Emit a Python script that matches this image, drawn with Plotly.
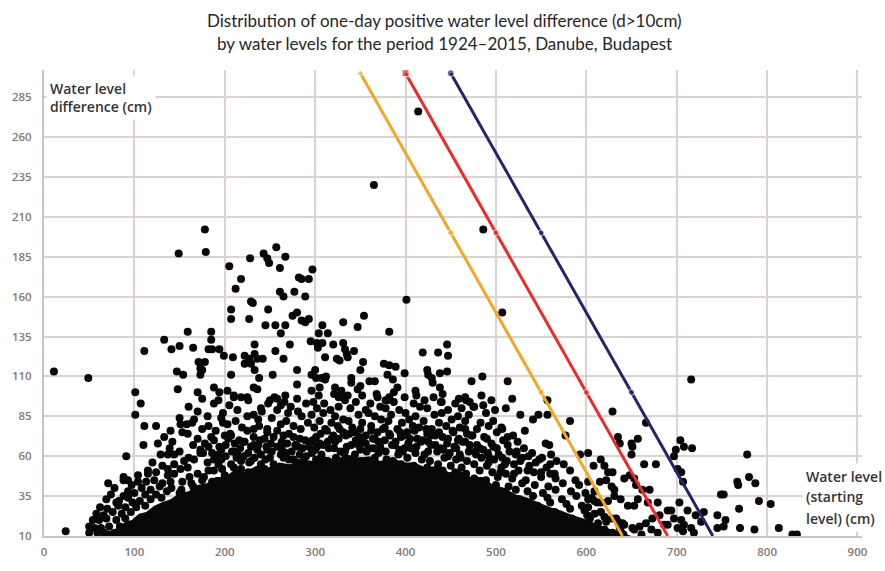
import plotly.graph_objects as go

# Water level at the start of the day (cm), one-day rise of the water level (cm)
# Isolated high rises and the thin upper part of the cloud
sparse_points = [
    (11, 113), (49, 109), (24, 13), (149, 187), (179, 188), (178, 202), (205, 179), (218, 171),
    (212, 165), (228, 184), (229, 157), (231, 156), (207, 152), (207, 146), (227, 146), (243, 187),
    (247, 184), (249, 181), (257, 191), (267, 185), (261, 178), (282, 172), (261, 163), (265, 160),
    (277, 163), (248, 152), (280, 150), (275, 148), (245, 142), (256, 142), (267, 142), (262, 137),
    (159, 138), (185, 138), (185, 133), (133, 133), (150, 129), (141, 127), (165, 128), (111, 126),
    (182, 127), (186, 127), (194, 127), (199, 123), (209, 122), (222, 123), (233, 130), (233, 124),
    (227, 121), (236, 121), (242, 121), (229, 118), (222, 118), (233, 114), (238, 109), (253, 111),
    (256, 126), (265, 121), (272, 130), (280, 114), (280, 105), (171, 119), (178, 119), (173, 115),
    (173, 111), (175, 114), (147, 113), (154, 111), (207, 111), (101, 100), (148, 102), (170, 100),
    (188, 103), (194, 100), (203, 101), (210, 98), (218, 97), (225, 97), (232, 103), (236, 102),
    (258, 96), (267, 98), (250, 95), (107, 93), (101, 86),
    (365, 230), (414, 276), (486, 202), (401, 158), (507, 150), (297, 177), (293, 171), (285, 171),
    (289, 160), (293, 146), (289, 144), (285, 145), (308, 142), (331, 144), (354, 148), (347, 141),
    (382, 138), (304, 137), (314, 137), (295, 132), (302, 131), (308, 131), (320, 130), (331, 131),
    (446, 130), (303, 128), (333, 127), (343, 126), (335, 124), (336, 122), (419, 125), (436, 125),
    (447, 123), (311, 122), (324, 121), (327, 120), (353, 119), (376, 118), (382, 117), (389, 116),
    (350, 114), (300, 114), (296, 111), (301, 109), (307, 109), (312, 110), (399, 112), (424, 114),
    (425, 111), (438, 112), (446, 113), (485, 110), (473, 107), (513, 107), (340, 109), (340, 106),
    (360, 107), (366, 107), (380, 111), (386, 108), (391, 103), (387, 100), (382, 97), (429, 109),
    (430, 106), (438, 103), (411, 101), (431, 97), (440, 94), (459, 96), (467, 95), (518, 96),
    (557, 95), (322, 103), (329, 101), (336, 98), (326, 97), (347, 102), (350, 104), (369, 97),
    (378, 95), (311, 108), (305, 103), (296, 101), (716, 108),
]

# Dense field between the saturated core and 100 cm, low water levels
left_band = [
    (175, 96), (193, 95), (210, 97), (226, 95), (255, 97), (266, 94), (280, 96),
    (160, 91), (188, 93), (205, 92), (240, 90), (248, 93), (262, 92), (273, 91), (290, 93),
    (170, 88), (198, 87), (214, 89), (232, 86), (241, 88), (258, 89), (270, 87), (281, 88),
    (150, 84), (166, 83), (181, 85), (196, 84), (212, 82), (225, 85), (237, 83), (252, 84), (268, 82), (285, 85),
    (111, 79), (124, 79), (151, 80), (158, 80), (164, 81), (182, 79), (198, 81), (203, 80), (219, 78),
    (238, 79), (247, 77), (262, 80), (276, 79), (292, 81),
    (140, 76), (153, 75), (175, 77), (190, 76), (206, 74), (225, 76), (232, 77), (247, 75), (258, 76), (271, 74), (284, 77),
    (133, 72), (159, 74), (170, 71), (185, 72), (200, 73), (207, 73), (216, 70), (232, 72), (244, 71), (265, 73), (276, 72), (289, 70),
    (110, 67), (126, 68), (142, 69), (165, 67), (178, 68), (194, 66), (211, 68), (222, 69), (237, 67), (251, 68), (269, 68), (281, 66),
    (139, 65), (150, 63), (173, 64), (186, 62), (196, 64), (210, 63), (229, 66), (236, 64), (247, 64), (258, 66), (274, 63), (286, 65),
    (91, 60), (129, 61), (137, 61), (144, 61), (160, 59), (173, 62), (188, 58), (201, 60), (214, 61), (221, 60),
    (233, 59), (245, 58), (262, 61), (276, 58), (290, 60),
    (120, 56), (131, 54), (144, 55), (155, 57), (166, 58), (181, 56), (193, 55), (207, 55), (218, 57), (227, 56),
    (240, 55), (254, 55), (265, 59), (280, 56),
    (115, 51), (124, 50), (137, 52), (151, 52), (159, 53), (170, 49), (182, 51), (197, 52), (210, 53), (218, 52),
    (231, 50), (244, 52), (258, 53), (270, 51), (282, 52), (294, 53),
    (88, 47), (104, 48), (115, 49), (137, 48), (144, 49), (161, 47), (177, 47), (188, 51), (200, 48), (213, 49), (226, 50), (238, 48),
    (71, 43), (88, 45), (93, 45), (97, 42), (104, 44), (113, 44), (122, 45), (131, 43), (140, 44), (153, 44),
    (163, 43), (175, 45), (186, 44), (198, 45),
    (78, 40), (93, 38), (108, 40), (118, 39), (128, 41), (141, 40), (152, 39), (165, 41), (177, 40),
    (74, 36), (88, 35), (100, 37), (112, 36), (124, 36), (136, 38), (150, 37),
    (69, 33), (80, 31), (83, 32), (93, 34), (98, 31), (106, 32), (118, 33), (130, 34),
    (62, 28), (70, 27), (82, 29), (90, 28), (102, 28), (112, 29),
    (58, 24), (66, 23), (76, 25), (86, 24), (96, 25),
    (54, 20), (61, 20), (69, 21), (80, 20), (90, 21),
    (50, 16), (56, 15), (63, 15), (72, 16), (84, 16),
    (50, 12), (59, 12), (66, 12), (71, 11),
    (188, 70), (204, 71), (221, 69), (239, 70), (254, 72), (263, 69), (283, 71), (296, 69),
    (182, 66), (201, 67), (217, 65), (232, 67), (246, 66), (263, 65), (278, 67), (293, 66),
    (176, 62), (193, 61), (208, 63), (226, 62), (240, 61), (252, 63), (268, 62), (283, 61), (297, 63),
    (196, 58), (213, 59), (229, 57), (250, 59), (271, 58), (287, 57),
]

# Dense field between the saturated core and 100 cm, middle water levels
right_band = [
    (304, 98), (321, 99), (330, 97), (352, 98), (368, 99), (399, 97), (412, 98), (441, 99), (466, 97), (484, 98),
    (298, 94), (310, 93), (333, 95), (345, 94), (361, 93), (380, 95), (387, 94), (409, 93), (421, 95),
    (439, 94), (455, 93), (471, 94), (495, 95),
    (302, 90), (317, 89), (326, 91), (339, 90), (356, 89), (372, 91), (378, 90), (393, 89), (416, 91),
    (424, 90), (447, 89), (462, 90), (476, 91), (499, 89), (511, 90),
    (296, 86), (309, 87), (322, 85), (348, 86), (359, 87), (366, 85), (384, 86), (400, 87), (411, 85),
    (432, 86), (440, 87), (458, 85), (470, 86), (489, 87), (527, 86),
    (305, 82), (318, 81), (331, 83), (337, 82), (352, 81), (373, 83), (381, 82), (396, 81), (404, 83),
    (420, 82), (437, 81), (451, 83), (466, 82), (483, 81), (497, 82), (541, 83),
    (299, 78), (311, 77), (325, 79), (341, 78), (350, 77), (362, 79), (377, 78), (391, 77), (408, 79),
    (415, 78), (429, 77), (445, 79), (460, 78), (479, 77), (492, 79), (506, 78),
    (306, 74), (320, 73), (331, 75), (338, 74), (356, 73), (369, 75), (382, 74), (398, 73), (402, 75),
    (424, 74), (433, 73), (453, 75), (468, 74), (474, 73), (501, 75), (519, 73),
    (297, 70), (314, 69), (326, 71), (345, 70), (353, 69), (364, 71), (377, 70), (389, 69), (405, 71),
    (419, 70), (425, 69), (447, 71), (458, 70), (466, 69), (490, 71), (508, 70), (524, 69),
    (302, 66), (309, 67), (321, 65), (335, 66), (348, 67), (359, 65), (372, 66), (385, 67), (399, 65),
    (412, 66), (428, 67), (439, 65), (454, 66), (471, 67), (482, 65), (497, 66), (513, 67), (531, 65),
    (296, 62), (307, 61), (328, 63), (332, 62), (344, 61), (357, 63), (370, 62), (392, 61), (397, 63),
    (411, 62), (421, 61), (435, 63), (449, 62), (460, 61), (477, 63), (491, 62), (503, 61), (523, 63),
    (540, 62), (561, 61),
    (301, 58), (314, 57), (323, 59), (339, 58), (350, 57), (366, 59), (379, 58), (386, 57), (402, 59),
    (418, 58), (427, 57), (443, 59), (456, 58), (468, 57), (484, 59), (498, 58), (512, 57), (529, 59),
    (548, 58), (567, 57),
    (298, 54), (310, 53), (319, 55), (333, 54), (345, 53), (358, 55), (371, 54), (382, 53), (395, 55),
    (409, 54), (424, 53), (436, 55), (450, 54), (462, 53), (476, 55), (490, 54), (506, 53), (520, 55),
    (537, 54), (556, 53), (575, 55),
    (366, 50), (388, 49), (401, 51), (414, 50), (430, 49), (441, 51), (455, 50), (467, 49), (482, 51),
    (496, 50), (511, 49), (525, 51), (542, 50), (560, 49), (582, 51),
    (425, 46), (446, 45), (460, 47), (476, 46), (489, 45), (502, 47), (518, 46), (533, 45), (550, 47),
    (566, 46), (588, 45),
    (457, 42), (472, 41), (486, 43), (500, 42), (514, 41), (529, 43), (543, 42), (558, 41), (574, 43), (592, 42),
    (491, 38), (507, 37), (522, 39), (535, 38), (552, 37), (566, 39), (583, 38), (599, 37),
    (511, 34), (526, 33), (541, 35), (557, 34), (573, 33), (589, 35), (606, 34),
    (529, 30), (546, 29), (560, 31), (578, 30), (595, 29), (612, 31),
    (548, 26), (565, 25), (582, 27), (598, 26), (616, 25),
    (567, 22), (584, 21), (601, 23), (620, 22), (633, 21),
    (586, 18), (603, 17), (622, 19), (640, 18),
    (605, 14), (621, 13), (637, 15), (653, 14),
    (624, 11), (641, 11), (661, 11),
    (313, 76), (327, 77), (344, 75), (362, 76), (375, 77), (394, 75), (410, 76), (423, 77), (437, 75), (452, 76), (466, 77),
    (301, 72), (318, 71), (334, 73), (349, 72), (366, 71), (383, 73), (395, 72), (413, 71), (428, 73),
    (441, 72), (459, 71), (473, 73), (487, 72),
    (305, 68), (322, 69), (340, 67), (356, 68), (370, 69), (388, 67), (403, 68), (417, 69), (433, 67),
    (446, 68), (463, 69), (479, 67), (495, 68),
    (300, 64), (315, 65), (333, 63), (350, 64), (364, 65), (378, 63), (393, 64), (406, 65), (425, 63),
    (442, 64), (456, 65), (470, 63), (486, 64), (501, 65), (515, 63),
    (447, 60), (461, 59), (478, 61), (492, 60), (507, 59), (522, 61), (536, 60), (551, 59),
    (492, 56), (510, 55), (527, 57), (544, 56), (560, 55),
    (505, 50), (520, 49), (535, 51), (550, 50), (565, 49),
]

# High water levels, right of the cloud
right_tail = [
    (475, 91), (486, 92), (547, 86), (557, 86), (582, 82), (507, 77), (513, 72), (532, 76), (555, 68),
    (559, 67), (577, 73), (593, 61), (608, 54), (602, 44), (629, 88), (666, 81), (704, 70), (708, 66),
    (717, 65), (699, 64), (697, 60), (778, 61), (780, 47), (787, 43), (768, 42), (767, 44), (791, 32),
    (804, 30), (769, 27), (749, 36), (752, 36), (745, 23), (754, 20), (752, 16), (745, 15), (770, 15),
    (786, 14), (813, 15), (828, 11), (833, 11),
    (701, 52), (705, 50), (707, 44), (703, 31), (712, 26), (721, 23), (730, 25), (727, 19), (716, 15),
    (707, 13), (719, 12), (694, 26), (697, 21), (690, 17), (705, 20), (708, 17), (701, 15),
    (635, 72), (637, 68), (650, 68), (651, 66), (657, 71), (650, 61), (664, 55), (677, 55), (648, 48),
    (642, 46), (653, 46), (655, 42), (662, 39), (670, 39), (631, 39), (628, 41), (616, 58), (620, 54),
    (624, 50), (629, 50), (622, 45), (615, 44), (609, 38), (602, 33), (609, 32), (616, 31), (624, 32),
    (631, 35), (638, 33), (646, 29), (653, 29), (657, 33), (668, 31), (679, 31), (690, 26), (681, 23),
    (673, 21), (666, 18), (659, 16), (651, 15), (642, 17), (635, 19), (628, 21), (616, 25), (609, 24),
    (602, 28), (604, 21), (613, 18), (620, 14), (629, 12), (638, 13), (672, 14), (679, 12), (686, 17),
    (602, 62),
]

# Outline of the saturated core of the cloud (points overlap completely here)
core_level = [68, 75, 82, 90, 97, 105, 113, 122, 130, 140, 150, 160, 170, 180, 190, 200, 210, 222,
              235, 248, 260, 272, 285, 298, 310, 322, 335, 348, 360, 372, 385, 398, 410, 422, 435,
              448, 460, 472, 485, 497, 510, 522, 535, 548, 560, 572, 585, 597, 610, 622, 634, 644,
              650, 650, 68]
core_diff = [10, 14, 15, 19, 20, 24, 25, 29, 31, 33, 37, 38, 42, 43, 47, 47, 51, 50,
             54, 53, 56, 55, 58, 57, 60, 58, 61, 59, 60, 57, 59, 56, 56, 53, 54,
             50, 51, 47, 47, 42, 40, 36, 34, 31, 28, 26, 23, 21, 18, 15, 13, 11,
             10, 8, 8]

# Reference lines: starting level + rise = constant
orange_level = [350, 450, 550, 640]
orange_diff = [300, 200, 100, 10]
red_level = [400, 500, 600, 690]
red_diff = [300, 200, 100, 10]
navy_level = [450, 550, 650, 740]
navy_diff = [300, 200, 100, 10]

x_ticks = list(range(0, 1000, 100))
y_ticks = list(range(10, 300, 25))

points = sparse_points + left_band + right_band + right_tail
water_level = [p[0] for p in points]
level_diff = [p[1] for p in points]

fig = go.Figure()

fig.add_trace(go.Scatter(
    x=core_level, y=core_diff, mode="lines", fill="toself",
    fillcolor="#080808", line=dict(width=0), hoverinfo="skip", showlegend=False,
))
fig.add_trace(go.Scatter(
    x=water_level, y=level_diff, mode="markers",
    marker=dict(size=8, color="#080808", line=dict(width=0)),
    showlegend=False,
))

for lx, ly, col, top_symbol in [
    (orange_level, orange_diff, "#f6a623", "triangle-up"),
    (red_level, red_diff, "#ec2b26", "square"),
    (navy_level, navy_diff, "#24246e", "circle"),
]:
    fig.add_trace(go.Scatter(
        x=lx, y=ly, mode="lines+markers",
        line=dict(color=col, width=3),
        marker=dict(size=[7, 6, 6, 0], color=col, symbol=[top_symbol, "circle", "circle", "circle"]),
        showlegend=False,
    ))

grid_col = "#dcd3d0"
tick_font = dict(family="Open Sans", size=11.5, color="#857a74", weight=600)

fig.update_xaxes(
    range=[0, 905], tickvals=x_ticks, showgrid=True, gridcolor=grid_col, gridwidth=1.5,
    zeroline=False, showline=True, linecolor="#cbc1bd", linewidth=2, ticks="",
    tickfont=tick_font, ticklabelstandoff=4,
)
fig.update_yaxes(
    range=[10, 302], tickvals=y_ticks, showgrid=True, gridcolor=grid_col, gridwidth=1.5,
    zeroline=False, showline=True, linecolor="#cbc1bd", linewidth=2, ticks="",
    tickfont=tick_font, ticklabelstandoff=8,
)

label_font = dict(family="Open Sans", size=14, color="#333333", weight=600)
title_font = dict(family="Lato", size=17, color="#262626")


def paper_y(px):
    # vertical page position (pixels from top) -> paper coordinate of the plot area
    return (544 - px) / 474


x_label_lines = ["Water level", "(starting", "level) (cm)"]
x_label_rows = [483, 504, 526]

annotations = [
    dict(text="Distribution of one-day positive water level difference (d>10cm)",
         x=0.49, y=paper_y(20), xref="paper", yref="paper", xanchor="center", yanchor="middle",
         showarrow=False, font=title_font),
    dict(text="by water levels for the period 1924\u20132015, Danube, Budapest",
         x=0.49, y=paper_y(43), xref="paper", yref="paper", xanchor="center", yanchor="middle",
         showarrow=False, font=title_font),
    dict(text="Water level<br>difference (cm)",
         x=0.003, y=0.99, xref="paper", yref="paper", xanchor="left", yanchor="top",
         align="left", showarrow=False, font=label_font, bgcolor="white", borderpad=3),
]
for line, row in zip(x_label_lines, x_label_rows):
    annotations.append(dict(
        text=line, x=0.927, y=paper_y(row), xref="paper", yref="paper",
        xanchor="left", yanchor="middle", align="left", showarrow=False,
        font=label_font, bgcolor="white", borderpad=3,
    ))

fig.update_layout(
    width=885, height=571,
    margin=dict(l=41, r=23, t=70, b=27),
    paper_bgcolor="white", plot_bgcolor="white",
    annotations=annotations,
)

fig.write_html("out.html")
